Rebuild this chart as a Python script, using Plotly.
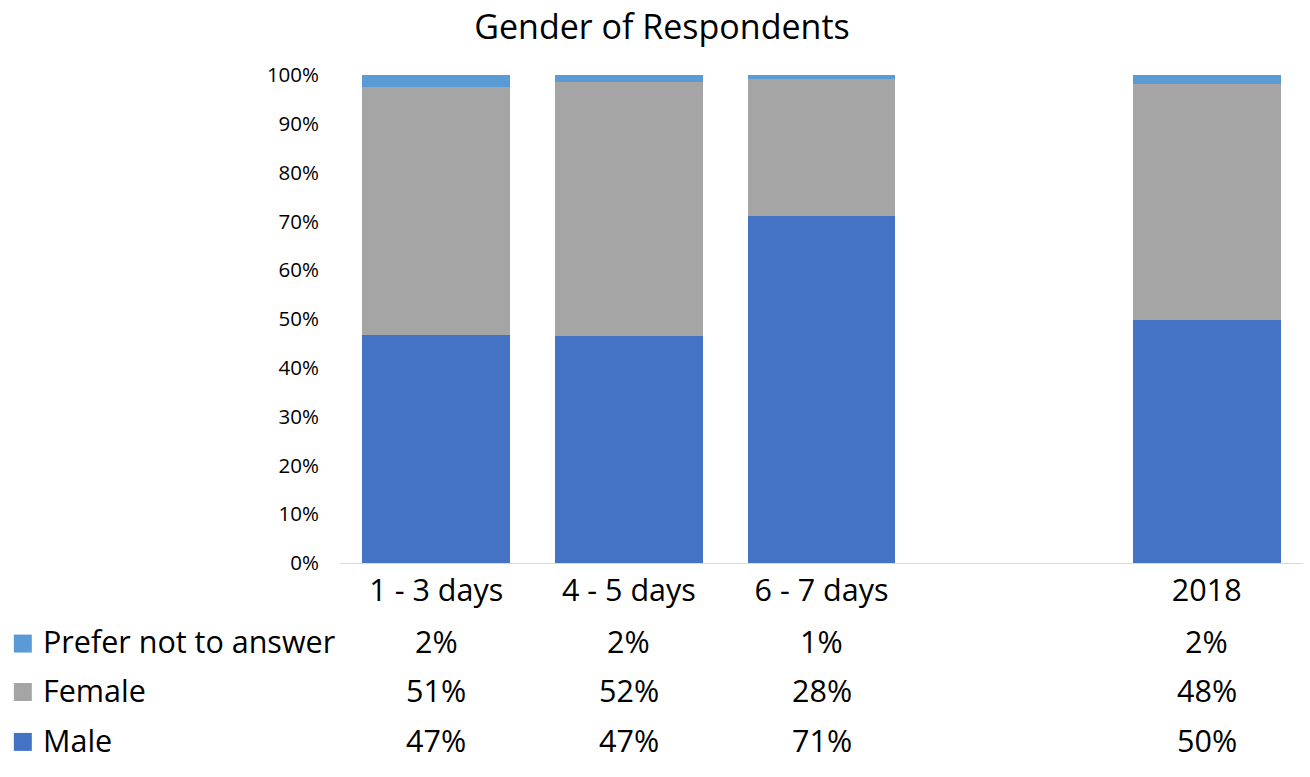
import plotly.graph_objects as go

# ---- data ----
categories = ["1 - 3 days", "4 - 5 days", "6 - 7 days", " ", "2018"]
male = [46.7, 46.6, 71.2, None, 49.8]
female = [50.9, 51.9, 28.0, None, 48.4]
prefer_not = [2.4, 1.5, 0.8, None, 1.8]
series_names = ["Prefer not to answer", "Female", "Male"]
y_ticks = [0, 10, 20, 30, 40, 50, 60, 70, 80, 90, 100]
title_text = "Gender of Respondents"

colors = {"Male": "#4472C4", "Female": "#A5A5A5", "Prefer not to answer": "#5B9BD5"}
FONT = "Open Sans"
W, H = 1310, 777
# plot area in page pixels
P_LEFT, P_RIGHT, P_TOP, P_BOTTOM = 339.5, 1303.5, 74.5, 563.3
ML, MR = P_LEFT, W - P_RIGHT
MT, MB = P_TOP, H - P_BOTTOM
PW, PH = P_RIGHT - P_LEFT, P_BOTTOM - P_TOP


def px_x(p):
    return (p - P_LEFT) / PW


def px_y(p):
    return (P_BOTTOM - p) / PH


fig = go.Figure()
for name, vals in [("Male", male), ("Female", female), ("Prefer not to answer", prefer_not)]:
    fig.add_trace(go.Bar(
        x=categories, y=vals, name=name,
        marker=dict(color=colors[name], line=dict(width=0)),
        showlegend=False, hoverinfo="skip",
    ))

# data table rows
rows = {"Prefer not to answer": prefer_not, "Female": female, "Male": male}
text_centers = {"Prefer not to answer": 641, "Female": 691, "Male": 740.5}
square_centers = {"Prefer not to answer": 644, "Female": 692.5, "Male": 742.5}
annotations = []
shapes = []
for name in series_names:
    yc = text_centers[name]
    sc = square_centers[name]
    shapes.append(dict(type="rect", xref="paper", yref="paper",
                       x0=px_x(13), x1=px_x(31), y0=px_y(sc + 9), y1=px_y(sc - 9),
                       fillcolor=colors[name], line=dict(width=0)))
    annotations.append(dict(text=name, xref="paper", yref="paper",
                            x=px_x(40), y=px_y(yc), xanchor="left", yanchor="middle",
                            showarrow=False, font=dict(family=FONT, size=30.5, color="#000000")))
    for i, v in enumerate(rows[name]):
        if v is None:
            continue
        annotations.append(dict(text=f"{round(v):d}%", xref="x", yref="paper",
                                x=i, y=px_y(yc), xanchor="center", yanchor="middle",
                                showarrow=False, font=dict(family=FONT, size=30.5, color="#000000")))

fig.update_layout(
    width=W, height=H,
    margin=dict(l=ML, r=MR, t=MT, b=MB, pad=0),
    barmode="stack", bargap=0.233,
    plot_bgcolor="white", paper_bgcolor="white",
    font=dict(family=FONT, color="#000000"),
    hovermode=False,
    title=dict(text=title_text, x=662 / W, xanchor="center", xref="container",
               y=1 - 27 / H, yanchor="middle", yref="container",
               font=dict(family=FONT, size=34, color="#000000")),
    xaxis=dict(type="category", categoryorder="array", categoryarray=categories,
               range=[-0.5, len(categories) - 0.5],
               showline=True, linecolor="#D9D9D9", linewidth=1, showgrid=False,
               ticks="", tickfont=dict(family=FONT, size=30.5, color="#000000"),
               ticklabelstandoff=0, fixedrange=True),
    yaxis=dict(range=[0, 100], tickvals=y_ticks, ticktext=[f"{t}%" for t in y_ticks],
               showgrid=False, showline=False, zeroline=False, ticks="",
               tickfont=dict(family=FONT, size=20.5, color="#000000"),
               ticklabelstandoff=20, fixedrange=True),
    annotations=annotations, shapes=shapes,
)

fig.write_html("out.html", config={"displayModeBar": False, "staticPlot": True},
               post_script="document.body.style.margin='0';document.body.style.overflow='hidden';")
